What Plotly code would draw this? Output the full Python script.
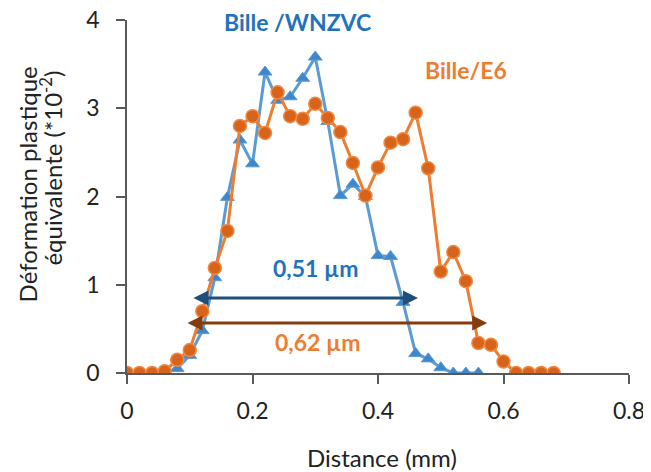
import plotly.graph_objects as go

x_e6 = [0.00, 0.02, 0.04, 0.06, 0.08, 0.10, 0.12, 0.14, 0.16, 0.18, 0.20, 0.22, 0.24, 0.26,
        0.28, 0.30, 0.32, 0.34, 0.36, 0.38, 0.40, 0.42, 0.44, 0.46, 0.48, 0.50, 0.52, 0.54,
        0.56, 0.58, 0.60, 0.62, 0.64, 0.66, 0.68]
y_e6 = [0, 0, 0, 0.02, 0.15, 0.26, 0.70, 1.19, 1.61, 2.80, 2.91, 2.72, 3.18, 2.91,
        2.88, 3.05, 2.89, 2.73, 2.38, 2.01, 2.33, 2.61, 2.65, 2.95, 2.32, 1.15, 1.37, 1.04,
        0.34, 0.32, 0.13, 0, 0, 0, 0]

x_wn = [0.00, 0.02, 0.04, 0.06, 0.08, 0.10, 0.12, 0.14, 0.16, 0.18, 0.20, 0.22, 0.24, 0.26,
        0.28, 0.30, 0.32, 0.34, 0.36, 0.38, 0.40, 0.42, 0.44, 0.46, 0.48, 0.50, 0.52, 0.54, 0.56]
y_wn = [0, 0, 0, 0, 0.05, 0.20, 0.48, 1.08, 1.99, 2.64, 2.37, 3.41, 3.09, 3.13,
        3.34, 3.58, 2.85, 2.01, 2.14, 2.00, 1.33, 1.32, 0.80, 0.22, 0.16, 0.06, 0, 0, 0]

x_ticks = [0, 0.2, 0.4, 0.6, 0.8]
x_ticktext = ["0", "0.2", "0.4", "0.6", "0.8"]
y_ticks = [0, 1, 2, 3, 4]

x_title = "Distance (mm)"
y_title_1 = "Déformation plastique"
y_title_2 = "équivalente (*10<sup>-2</sup>)"
label_wn = "Bille /WNZVC"
label_e6 = "Bille/E6"
span_wn = "0,51 µm"
span_e6 = "0,62 µm"

FONT = "Lato"
BLUE_TXT = "#1F72BD"
ORANGE_TXT = "#ED7D31"

fig = go.Figure()
fig.add_trace(go.Scatter(
    x=x_wn, y=y_wn, mode="lines+markers", name=label_wn,
    line=dict(color="#5B9BD5", width=3),
    marker=dict(symbol="triangle-up", size=12, color="#3F86CB",
                line=dict(color="#5B9BD5", width=1)),
))
fig.add_trace(go.Scatter(
    x=x_e6, y=y_e6, mode="lines+markers", name=label_e6,
    line=dict(color="#ED7D31", width=3),
    marker=dict(symbol="circle", size=13, color="#D8631A",
                line=dict(color="#EE8A45", width=1.5)),
))

annots = [
    dict(x=0.2725, y=3.98, text=f"<b>{label_wn}</b>", font=dict(color=BLUE_TXT, size=23)),
    dict(x=0.540, y=3.43, text=f"<b>{label_e6}</b>", font=dict(color=ORANGE_TXT, size=23)),
    dict(x=0.301, y=1.19, text=f"<b>{span_wn}</b>", font=dict(color=BLUE_TXT, size=23)),
    dict(x=0.304, y=0.35, text=f"<b>{span_e6}</b>", font=dict(color=ORANGE_TXT, size=23)),
]
for a in annots:
    a.update(xref="x", yref="y", showarrow=False, xanchor="center", yanchor="middle")
    a["font"]["family"] = FONT
    fig.add_annotation(**a)

for x0, x1, yv, col in [(0.1036, 0.4637, 0.85, "#1F4E79"), (0.094, 0.574, 0.567, "#843C0C")]:
    fig.add_annotation(x=x1, y=yv, ax=x0, ay=yv, xref="x", yref="y", axref="x", ayref="y",
                       text="", showarrow=True, arrowhead=2, startarrowhead=2,
                       arrowside="end+start", arrowwidth=3, arrowsize=1,
                       startarrowsize=1, arrowcolor=col, standoff=0, startstandoff=0)

# axis titles as annotations (paper coords relative to plot area)
fig.add_annotation(x=0.508, y=-0.238, xref="paper", yref="paper", text=x_title,
                   showarrow=False, xanchor="center", yanchor="middle",
                   font=dict(family=FONT, size=24, color="#222222"))
fig.add_annotation(x=-0.198, y=0.533, xref="paper", yref="paper", text=y_title_1,
                   showarrow=False, xanchor="center", yanchor="middle", textangle=-90,
                   font=dict(family=FONT, size=24, color="#222222"))
fig.add_annotation(x=-0.152, y=0.581, xref="paper", yref="paper", text=y_title_2,
                   showarrow=False, xanchor="center", yanchor="middle", textangle=-90,
                   font=dict(family=FONT, size=24, color="#222222"))

fig.update_layout(
    width=643, height=464,
    margin=dict(l=119, r=22, t=12, b=99),
    paper_bgcolor="white", plot_bgcolor="white",
    showlegend=False,
    font=dict(family=FONT, size=23, color="#222222"),
)
fig.update_xaxes(
    range=[0, 0.8], tickvals=x_ticks, ticktext=x_ticktext,
    showline=True, linecolor="#595959", linewidth=1.5, showgrid=False, zeroline=False,
    ticks="outside", ticklen=9, tickcolor="#595959", tickwidth=1.5,
    ticklabelstandoff=8, automargin=False, ticklabeloverflow="allow",
)
fig.update_yaxes(
    range=[0, 4], tickvals=y_ticks,
    showline=True, linecolor="#595959", linewidth=1.5, showgrid=False, zeroline=False,
    ticks="outside", ticklen=9, tickcolor="#595959", tickwidth=1.5,
    ticklabelstandoff=12, automargin=False, ticklabeloverflow="allow",
)
fig.write_html("out.html")
